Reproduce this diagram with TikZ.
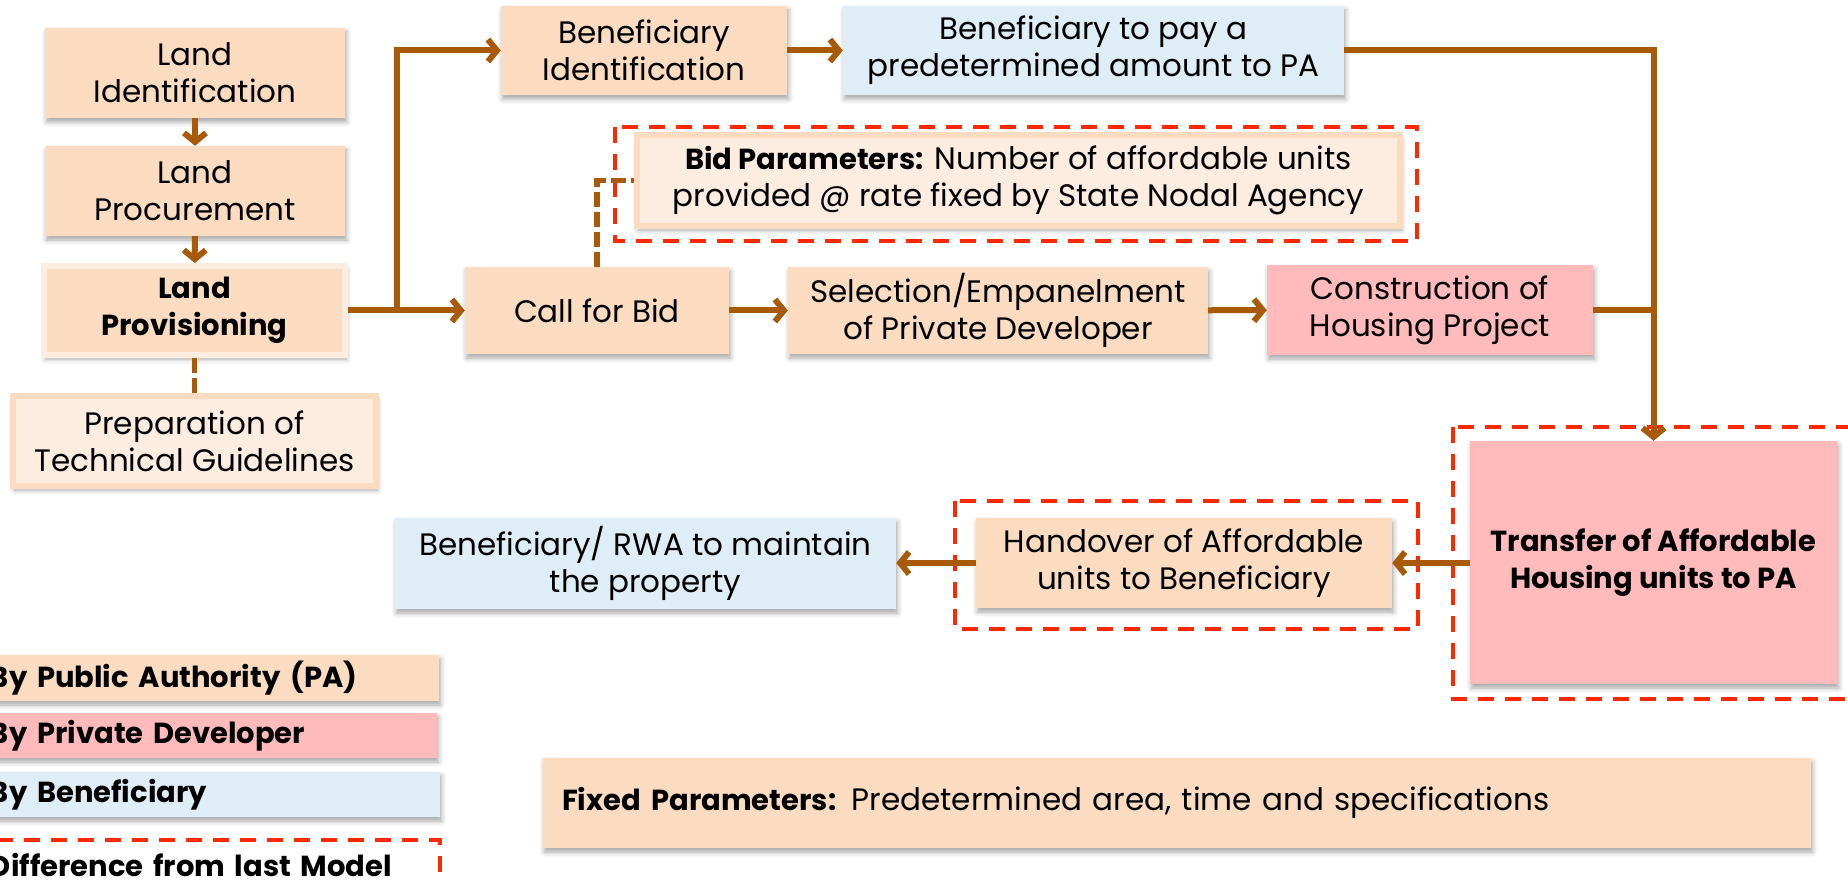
\documentclass[tikz,border=0pt]{standalone}
\usepackage{fontspec}
\setmainfont{Poppins}
\usetikzlibrary{arrows.meta,shadows.blur,calc}

\definecolor{peach}{RGB}{251,220,193}
\definecolor{peachlt}{RGB}{253,237,225}
\definecolor{pinkbox}{RGB}{255,187,187}
\definecolor{bluebox}{RGB}{223,238,246}
\definecolor{arrowc}{RGB}{168,90,8}
\definecolor{diffred}{RGB}{255,40,0}

% regular box text and the slightly smaller bold face
\newcommand\diagfont{\fontsize{31}{37}\selectfont}
\newcommand\diagbold{\fontsize{29}{37}\selectfont\bfseries}

\tikzset{
  box/.style={rectangle, inner sep=0pt, align=center, font=\diagfont,
    blur shadow={shadow xshift=1.5pt, shadow yshift=-4pt,
                 shadow blur radius=5pt, shadow opacity=35}},
  pabox/.style={box, fill=peach},
  pdbox/.style={box, fill=pinkbox},
  benbox/.style={box, fill=bluebox},
  rimbox/.style={box, fill=peach, draw=peachlt, line width=6pt},
  softbox/.style={box, fill=peachlt, draw=peach, line width=6pt},
  legendbox/.style={box, align=left, inner xsep=50pt, font=\diagbold},
  diffbox/.style={draw=diffred, line width=4pt, dash pattern=on 16pt off 11pt},
  flow/.style={draw=arrowc, line width=6pt,
    -{Straight Barb[length=9pt,width=22pt]}},
  link/.style={draw=arrowc, line width=6pt},
  dashlink/.style={draw=arrowc, line width=5.5pt, dash pattern=on 15pt off 5pt},
}

\begin{document}
\begin{tikzpicture}[x=1pt,y=-1pt]
\useasboundingbox (0,0) rectangle (1848,882);
\clip (0,0) rectangle (1848,882);

% land chain on the left
\node[pabox, minimum width=300pt, minimum height=90pt] (landid) at (195,73) {Land\\Identification};
\node[pabox, minimum width=300pt, minimum height=90pt] (landproc) at (195,191) {Land\\Procurement};
\node[rimbox, minimum width=301pt, minimum height=89pt, font=\diagbold] (landprov) at (194.5,310.5) {Land\\Provisioning};
\node[softbox, minimum width=363pt, minimum height=90pt] (prep) at (194.5,441) {Preparation of\\Technical Guidelines};

% beneficiary row
\node[pabox, minimum width=286pt, minimum height=89pt] (benid) at (644,50.5) {Beneficiary\\Identification};
\node[benbox, minimum width=501pt, minimum height=89pt] (benpay) at (1093.5,50.5) {Beneficiary to pay a\\predetermined amount to PA};

% bidding row
\node[softbox, minimum width=763pt, minimum height=91pt] (bidpar) at (1018.5,180.5) {{\diagbold Bid Parameters:} Number of affordable units\\provided @ rate fixed by State Nodal Agency};
\node[pabox, minimum width=264pt, minimum height=87pt] (callbid) at (597,310.5) {Call for Bid};
\node[pabox, minimum width=420pt, minimum height=87pt] (select) at (998,310.5) {Selection/Empanelment\\of Private Developer};
\node[pdbox, minimum width=326pt, minimum height=90pt] (construct) at (1430,310) {Construction of\\Housing Project};

% transfer and handover
\node[pdbox, minimum width=367pt, minimum height=243pt, font=\diagbold] (transfer) at (1653.5,562.5) {Transfer of Affordable\\Housing units to PA};
\node[pabox, minimum width=416pt, minimum height=90pt] (handover) at (1184,563) {Handover of Affordable\\units to Beneficiary};
\node[benbox, minimum width=501pt, minimum height=91pt] (maintain) at (645.5,563.5) {Beneficiary/ RWA to maintain\\the property};

% fixed parameters
\node[pabox, text width=1230pt, inner xsep=19pt, minimum height=90pt, align=left] (fixed) at (1177,803) {{\diagbold Fixed Parameters:} Predetermined area, time and specifications};

% legend
\node[legendbox, fill=peach, text width=399pt, minimum height=46pt] (lgpa) at (189.5,678) {\mbox{By Public Authority (PA)}};
\node[legendbox, fill=pinkbox, text width=397pt, minimum height=45pt] (lgpd) at (188.5,735.5) {\mbox{By Private Developer}};
\node[legendbox, fill=bluebox, text width=400pt, minimum height=45pt] (lgben) at (190,794.5) {\mbox{By Beneficiary}};
\node[legendbox, blur shadow={shadow opacity=0}, text width=400pt, minimum height=50pt] (lgdiff) at (190,865) {\mbox{Difference from last Model}};
\draw[diffbox] (lgdiff.south west) rectangle (lgdiff.north east);

% dashed frames around the changed steps
\draw[diffbox] (615,127) rectangle (1417,241);
\draw[diffbox] (955,501) rectangle (1418,629);
\draw[diffbox] (1453,427) rectangle (1880,699);

% connectors
\draw[flow] (landid) -- (landproc);
\draw[flow] (landproc) -- (landprov);
\draw[dashlink] (landprov) -- (prep);
\coordinate (split) at (397,310.5);
\draw[flow] (landprov.east) -- (split) |- (benid.west);
\draw[flow] (landprov.east) -- (callbid.west);
\draw[flow] (benid) -- (benpay);
\draw[flow] (callbid) -- (select);
\draw[flow] (select) -- (construct);
\draw[dashlink] (callbid.north) |- (bidpar.west);
\draw[flow] (benpay.east) -| (transfer.north);
\draw[link] (construct.east) -- (construct.east -| transfer.north);
\draw[flow] (transfer.west |- handover.east) -- (handover.east);
\draw[flow] (handover.west) -- (handover.west -| maintain.east);
\end{tikzpicture}
\end{document}
